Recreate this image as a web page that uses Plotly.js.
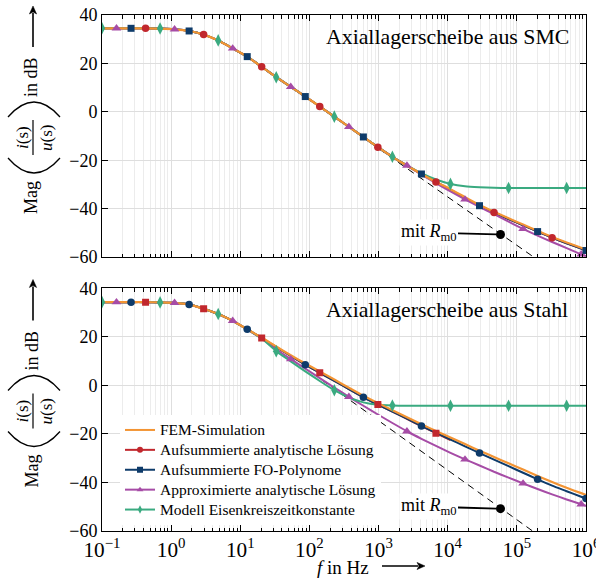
<!DOCTYPE html>
<html>
<head>
<meta charset="utf-8">
<script src="https://cdn.plot.ly/plotly-3.0.1.min.js"></script>
<style>html,body{margin:0;padding:0;background:#fff;}</style>
</head>
<body>
<div id="chart" style="width:596px;height:582px;"></div>
<script>
// ---------- data ----------
const freq = [0.1, 0.162, 0.263, 0.427, 0.692, 1.12, 1.82, 2.95, 4.79, 7.76,
  12.6, 20.4, 33.1, 53.7, 87.1, 141, 229, 372, 603, 977,
  1585, 2570, 4169, 6761, 10965, 17783, 28840, 46774, 75858, 123027,
  199526, 323594, 524807, 851138, 1000000];

// Axiallagerscheibe aus SMC
const smcFEM   = [34.5,34.5,34.5,34.5,34.4,34.1,33.4,31.9,29.5,26.2,22.8,18.6,14.3,10.3,6.3,2.2,-2.0,-6.2,-10.4,-14.6,-18.6,-22.2,-25.7,-29.0,-32.0,-35.3,-38.5,-41.3,-44.0,-46.6,-49.2,-51.7,-54.0,-56.2,-57.0];
const smcAna   = [34.5,34.5,34.5,34.5,34.4,34.1,33.4,31.9,29.5,26.2,22.8,18.6,14.3,10.3,6.3,2.2,-2.0,-6.2,-10.4,-14.6,-18.6,-22.2,-25.7,-29.0,-32.3,-35.6,-38.8,-41.6,-44.3,-46.9,-49.5,-52.0,-54.3,-56.5,-57.3];
const smcFO    = [34.5,34.5,34.5,34.5,34.4,34.1,33.4,31.9,29.5,26.2,22.8,18.6,14.3,10.3,6.3,2.2,-2.0,-6.2,-10.4,-14.6,-18.6,-22.2,-25.7,-29.0,-32.3,-35.6,-38.8,-41.6,-44.3,-46.9,-49.5,-52.0,-54.3,-56.5,-57.3];
const smcApprox= [34.5,34.5,34.5,34.5,34.4,34.1,33.4,31.9,29.5,26.2,22.8,18.6,14.3,10.3,6.3,2.2,-2.0,-6.2,-10.4,-14.6,-18.6,-22.2,-26.0,-29.5,-32.9,-36.2,-39.3,-42.3,-45.4,-48.4,-51.2,-53.8,-56.3,-58.9,-59.6];
const smcTau   = [34.5,34.5,34.5,34.5,34.4,34.1,33.4,31.9,29.5,26.2,22.8,18.6,14.3,10.3,6.3,2.2,-2.0,-6.2,-10.4,-14.6,-18.6,-22.1,-25.4,-28.0,-29.8,-30.8,-31.2,-31.4,-31.5,-31.5,-31.5,-31.5,-31.5,-31.5,-31.5];
const smcAsymF  = [1000, 300000];
const smcAsymDB = [-15.2, -64.7];
const smcRm0DB  = [-50.7];

// Axiallagerscheibe aus Stahl
const stFEM    = [34.3,34.3,34.3,34.3,34.2,34.0,33.3,31.6,29.4,26.6,23.1,19.7,16.0,12.4,9.0,5.7,2.4,-1.0,-4.3,-7.3,-10.2,-13.1,-16.0,-18.8,-21.5,-24.2,-26.9,-29.5,-32.1,-34.7,-37.3,-39.8,-42.2,-44.4,-45.1];
const stAna    = [34.3,34.3,34.3,34.3,34.2,34.0,33.3,31.6,29.4,26.6,23.1,19.5,15.8,12.1,8.5,5.2,1.9,-1.5,-4.9,-7.9,-10.8,-13.8,-16.8,-19.7,-22.5];
const stFO     = [34.3,34.3,34.3,34.3,34.2,34.0,33.3,31.6,29.4,26.6,23.1,19.5,15.8,12.1,8.5,5.2,1.9,-1.5,-4.9,-7.9,-10.8,-13.7,-16.7,-19.5,-22.3,-25.1,-27.9,-30.6,-33.3,-36.0,-38.7,-41.3,-43.6,-45.9,-46.6];
const stApprox = [34.3,34.3,34.3,34.3,34.2,34.0,33.3,31.6,29.4,26.6,23.1,19.2,14.9,10.8,6.9,3.0,-0.9,-4.7,-8.4,-12.0,-15.5,-18.9,-22.0,-24.9,-27.8,-30.5,-33.0,-35.6,-38.0,-40.4,-42.7,-44.9,-47.0,-49.0,-49.6];
const stTau    = [34.3,34.3,34.3,34.3,34.2,34.0,33.3,31.6,29.4,26.6,23.1,19.3,14.1,9.9,5.8,1.8,-2.0,-5.0,-7.0,-8.0,-8.3,-8.4,-8.4,-8.4,-8.4,-8.4,-8.4,-8.4,-8.4,-8.4,-8.4,-8.4,-8.4,-8.4,-8.4];
const stAsymF  = [150, 300000];
const stAsymDB = [2.3, -65.1];
const stRm0DB  = [-50.8];

const rm0F = [58000];

const seriesNames = ['FEM-Simulation', 'Aufsummierte analytische Lösung', 'Aufsummierte FO-Polynome',
  'Approximierte analytische Lösung', 'Modell Eisenkreiszeitkonstante'];
const xTickAlias = {'1': '10<sup>0</sup>', '10': '10<sup>1</sup>'};

// ---------- styles ----------
const C = {fem:'#F39433', ana:'#C1272D', fo:'#0E3B6A', app:'#A64CA6', tau:'#3AAA80'};
const L = 102, R = 586, T = 15, B = 531;
const px = X => (X - L) / (R - L);
const py = Y => (B - Y) / (B - T);

const traces = [];
function line(y, xa, ya, color, w) {
  traces.push({x: freq.slice(0, y.length), y: y, xaxis: xa, yaxis: ya, mode: 'lines',
    line: {color: color, width: w, shape: 'spline', smoothing: 0.6},
    showlegend: false, hoverinfo: 'skip'});
}
function marks(y, off, xa, ya, color, symbol, size) {
  const xs = [], ys = [];
  y.forEach((v, i) => { if (i % 4 === off) { xs.push(freq[i]); ys.push(v); } });
  traces.push({x: xs, y: ys, xaxis: xa, yaxis: ya, mode: 'markers',
    marker: {color: color, symbol: symbol, size: size, line: {width: 0}},
    showlegend: false, hoverinfo: 'skip'});
}
function asym(f, d, xa, ya) {
  traces.push({x: f, y: d, xaxis: xa, yaxis: ya, mode: 'lines',
    line: {color: 'black', width: 1, dash: '7px,5px'}, showlegend: false, hoverinfo: 'skip'});
}

// top
asym(smcAsymF, smcAsymDB, 'x', 'y');
line(smcAna, 'x', 'y', C.ana, 2);
line(smcFO, 'x', 'y', C.fo, 2);
line(smcApprox, 'x', 'y', C.app, 2);
line(smcTau, 'x', 'y', C.tau, 2);
line(smcFEM, 'x', 'y', C.fem, 2.2);
marks(smcTau, 0, 'x', 'y', C.tau, 'diamond-tall', 9);
marks(smcApprox, 1, 'x', 'y', C.app, 'triangle-up', 8.5);
marks(smcFO, 2, 'x', 'y', C.fo, 'square', 7);
marks(smcAna, 3, 'x', 'y', C.ana, 'circle', 7.5);
traces.push({x: rm0F, y: smcRm0DB, xaxis: 'x', yaxis: 'y', mode: 'markers',
  marker: {color: 'black', size: 9}, showlegend: false, hoverinfo: 'skip'});

// bottom
asym(stAsymF, stAsymDB, 'x2', 'y2');
line(stAna, 'x2', 'y2', C.ana, 2);
line(stFO, 'x2', 'y2', C.fo, 2);
line(stApprox, 'x2', 'y2', C.app, 2);
line(stTau, 'x2', 'y2', C.tau, 2);
line(stFEM, 'x2', 'y2', C.fem, 2.2);
marks(stTau, 0, 'x2', 'y2', C.tau, 'diamond-tall', 9);
marks(stApprox, 1, 'x2', 'y2', C.app, 'triangle-up', 8.5);
marks(stFO, 2, 'x2', 'y2', C.fo, 'circle', 7.5);
marks(stAna, 3, 'x2', 'y2', C.ana, 'square', 7);
traces.push({x: rm0F, y: stRm0DB, xaxis: 'x2', yaxis: 'y2', mode: 'markers',
  marker: {color: 'black', size: 9}, showlegend: false, hoverinfo: 'skip'});

// legend entries
const legSym = [null, 'circle', 'square', 'triangle-up', 'diamond-tall'];
const legCol = [C.fem, C.ana, C.fo, C.app, C.tau];
seriesNames.forEach((n, i) => {
  const t = {x: [null], y: [null], xaxis: 'x2', yaxis: 'y2',
    name: '<span style="font-size:15.5px">' + n + '</span>',
    mode: legSym[i] ? 'lines+markers' : 'lines',
    line: {color: legCol[i], width: 2},
    showlegend: true, hoverinfo: 'skip'};
  if (legSym[i]) t.marker = {color: legCol[i], symbol: legSym[i], size: 6};
  traces.push(t);
});

// ---------- layout ----------
const xBase = {type: 'log', range: [-1, 6], dtick: 1, tick0: 0, exponentformat: 'power',
  ticks: 'inside', ticklen: 6, tickcolor: 'black', tickwidth: 1,
  showline: true, linecolor: 'black', linewidth: 1, mirror: 'allticks',
  showgrid: true, gridcolor: '#dedede', gridwidth: 1, zeroline: false,
  minor: {dtick: 'D1', ticks: 'inside', ticklen: 3.5, tickcolor: 'black', showgrid: true, gridcolor: '#ececec', gridwidth: 1},
  labelalias: xTickAlias, tickfont: {size: 17}, ticklabeloverflow: 'allow'};
const yBase = {range: [-60, 40], dtick: 20, ticks: 'inside', ticklen: 6, tickcolor: 'black',
  showline: true, linecolor: 'black', linewidth: 1, mirror: 'allticks',
  showgrid: true, gridcolor: '#dedede', zeroline: false, tickfont: {size: 18}};

const annotations = [];
const shapes = [];
const P = (X, Y) => px(X) + ',' + py(Y);
function arrow(x0, y0, x1, y1) {
  // shaft from (x0,y0) to (x1,y1) in pixels, head at (x1,y1)
  const dx = x1 - x0, dy = y1 - y0, len = Math.hypot(dx, dy);
  const ux = dx / len, uy = dy / len, hl = 8, hw = 3.6;
  const bx = x1 - ux * hl, by = y1 - uy * hl;
  shapes.push({type: 'line', xref: 'paper', yref: 'paper', line: {color: 'black', width: 1.6},
    x0: px(x0), y0: py(y0), x1: px(bx + ux * 1), y1: py(by + uy * 1)});
  shapes.push({type: 'path', xref: 'paper', yref: 'paper', fillcolor: 'black', line: {color: 'black', width: 0.5},
    path: `M ${P(x1, y1)} L ${P(bx - uy * hw, by + ux * hw)} L ${P(bx + ux * 2, by + uy * 2)} L ${P(bx + uy * hw, by - ux * hw)} Z`});
}
[0, 273.5].forEach(dy => {
  const f = (X, Y, txt, size) => annotations.push({xref: 'paper', yref: 'paper', x: px(X), y: py(Y + dy),
    text: txt, textangle: -90, showarrow: false, font: {size: size}, xanchor: 'center', yanchor: 'middle'});
  f(31, 198, 'Mag', 18);
  f(22, 138, '<i>i</i>(s)', 17);
  f(46, 138, '<i>u</i>(s)', 17);
  f(31, 77, 'in dB', 18);
  arrow(33, 47 + dy, 33, 6 + dy);
  const lw = {color: 'black', width: 1.3};
  shapes.push({type: 'path', xref: 'paper', yref: 'paper', line: lw,
    path: `M ${P(8, 158 + dy)} Q ${P(34, 188 + dy)} ${P(60, 158 + dy)}`});
  shapes.push({type: 'path', xref: 'paper', yref: 'paper', line: lw,
    path: `M ${P(8, 117 + dy)} Q ${P(34, 87 + dy)} ${P(60, 117 + dy)}`});
  shapes.push({type: 'line', xref: 'paper', yref: 'paper', line: {color: 'black', width: 1.2},
    x0: px(33), x1: px(33), y0: py(120 + dy), y1: py(155 + dy)});
});
arrow(382, 566, 425, 566);
annotations.push({xref: 'paper', yref: 'paper', x: px(571), y: py(37), xanchor: 'right', yanchor: 'middle',
  text: 'Axiallagerscheibe aus SMC', showarrow: false, font: {size: 21.8}});
annotations.push({xref: 'paper', yref: 'paper', x: px(570), y: py(310), xanchor: 'right', yanchor: 'middle',
  text: 'Axiallagerscheibe aus Stahl', showarrow: false, font: {size: 21.8}});
annotations.push({xref: 'paper', yref: 'paper', x: px(343), y: py(567), xanchor: 'center', yanchor: 'middle',
  text: '<i>f</i> in Hz', showarrow: false, font: {size: 19}});
[['x', 'y', smcRm0DB[0]], ['x2', 'y2', stRm0DB[0]]].forEach(([xa, ya, v]) => {
  annotations.push({xref: xa, yref: ya, x: Math.log10(rm0F[0]), y: v, text: 'mit <i>R</i><sub>m0</sub>',
    showarrow: true, arrowhead: 0, arrowwidth: 1.8, arrowcolor: 'black', ax: -72, ay: -2, standoff: 4,
    bgcolor: 'white', font: {size: 18}});
});

const layout = {
  width: 596, height: 582,
  margin: {l: L, r: 596 - R, t: T, b: 582 - B, pad: 0},
  paper_bgcolor: 'white', plot_bgcolor: 'white',
  font: {family: '"Liberation Serif", "DejaVu Serif", serif', color: 'black', size: 16},
  showlegend: true,
  legend: {x: px(120), y: py(415), xanchor: 'left', yanchor: 'top', bgcolor: 'white',
    borderwidth: 0, font: {size: 13}, tracegroupgap: 0, itemwidth: 30},
  xaxis: Object.assign({}, xBase, {anchor: 'y', showticklabels: false}),
  yaxis: Object.assign({}, yBase, {anchor: 'x', domain: [py(257), 1]}),
  xaxis2: Object.assign({}, xBase, {anchor: 'y2'}),
  yaxis2: Object.assign({}, yBase, {anchor: 'x2', domain: [0, py(288.3)]}),
  annotations: annotations,
  shapes: shapes,
  hovermode: false
};

Plotly.newPlot('chart', traces, layout, {staticPlot: true, displayModeBar: false});
</script>
</body>
</html>
